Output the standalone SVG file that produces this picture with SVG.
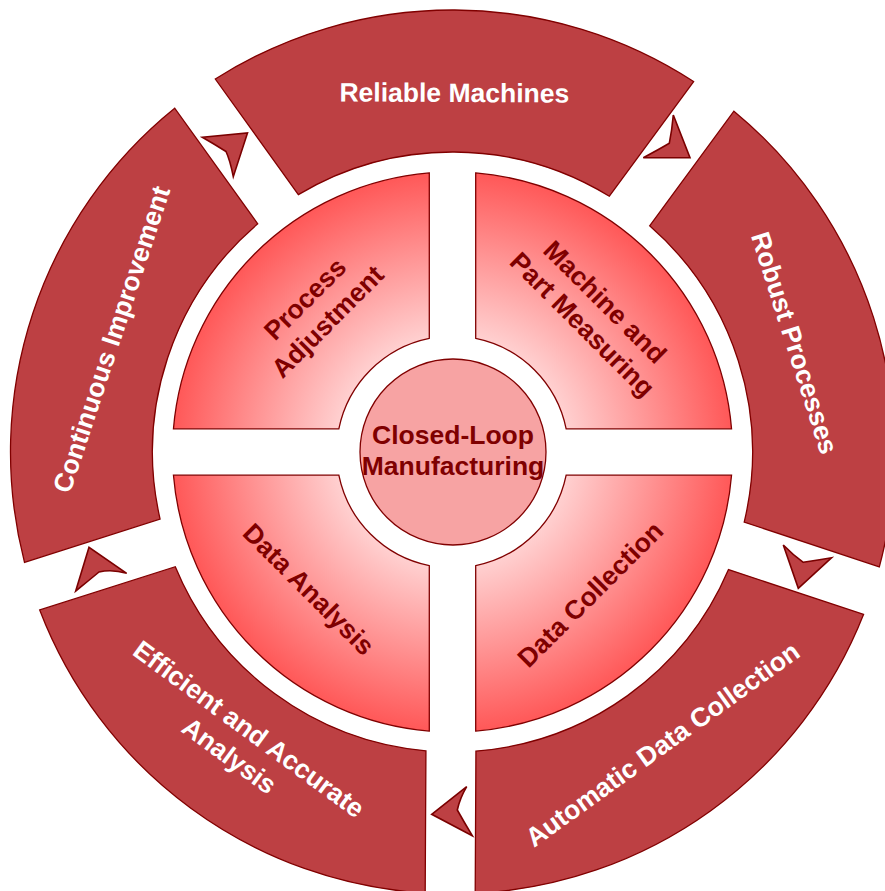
<svg xmlns="http://www.w3.org/2000/svg" width="885" height="891" viewBox="0 0 885 891">
  <defs>
    <style>
      .seg { fill: #BD4043; stroke: #800000; stroke-width: 1.3; }
      .quad { fill: url(#qgrad); stroke: #800000; stroke-width: 1.3; }
      .hub { fill: #F7A3A3; stroke: #800000; stroke-width: 1.3; }
      .arrow { fill: #BD4043; stroke: #7A0000; stroke-width: 1.6; stroke-linejoin: miter; }
      .otxt { font-family: "Liberation Sans", Arial, sans-serif; font-weight: bold; font-size: 26.5px; fill: #FFFFFF; text-anchor: middle; }
      .itxt { font-family: "Liberation Sans", Arial, sans-serif; font-weight: bold; font-size: 26.5px; fill: #7F0000; text-anchor: middle; }
    </style>
    <radialGradient id="qgrad" gradientUnits="userSpaceOnUse" cx="452.5" cy="452" r="280">
      <stop offset="0" stop-color="#FFE4E4"/>
      <stop offset="0.42" stop-color="#FFCFCF"/>
      <stop offset="0.7" stop-color="#FF9696"/>
      <stop offset="1" stop-color="#FF5858"/>
    </radialGradient>
  </defs>
  <rect width="885" height="891" fill="#FFFFFF"/>

  <!-- outer ring -->
  <g id="reliable-machines">
    <path class="seg" transform="rotate(0.3 452.5 452)" d="M 213.35 80.29 A 442 442 0 0 1 691.65 80.29 L 608 195.44 A 300 300 0 0 0 297 195.44 Z"/>
    <text class="otxt" transform="rotate(0.3 452.5 452)" x="452.5" y="102">Reliable Machines</text>
  </g>
  <g id="robust-processes">
    <path class="seg" transform="rotate(72.3 452.5 452)" d="M 213.35 80.29 A 442 442 0 0 1 691.65 80.29 L 608 195.44 A 300 300 0 0 0 297 195.44 Z"/>
    <text class="otxt" transform="rotate(72.3 452.5 452)" x="452.5" y="102">Robust Processes</text>
  </g>
  <g id="automatic-data-collection">
    <path class="seg" transform="rotate(144.3 452.5 452)" d="M 213.35 80.29 A 442 442 0 0 1 691.65 80.29 L 608 195.44 A 300 300 0 0 0 297 195.44 Z"/>
    <text class="otxt" transform="rotate(-35.7 452.5 452)" x="452.5" y="821">Automatic Data Collection</text>
  </g>
  <g id="efficient-accurate-analysis">
    <path class="seg" transform="rotate(216.3 452.5 452)" d="M 213.35 80.29 A 442 442 0 0 1 691.65 80.29 L 608 195.44 A 300 300 0 0 0 297 195.44 Z"/>
    <text class="otxt" transform="rotate(36.3 452.5 452)" x="452.5" y="805">Efficient and Accurate</text>
    <text class="otxt" transform="rotate(36.3 452.5 452)" x="452.5" y="838">Analysis</text>
  </g>
  <g id="continuous-improvement">
    <path class="seg" transform="rotate(288.3 452.5 452)" d="M 213.35 80.29 A 442 442 0 0 1 691.65 80.29 L 608 195.44 A 300 300 0 0 0 297 195.44 Z"/>
    <text class="otxt" transform="rotate(-71.7 452.5 452)" x="452.5" y="102">Continuous Improvement</text>
  </g>

  <!-- connectors (cycle arrows) -->
  <g id="connectors">
    <path class="arrow" d="M 202.3 137.3 L 247.5 133 L 233.3 176.7 Q 230 160 226 151.5 Q 214 144 202.3 137.3 Z"/>
    <path class="arrow" d="M 673.3 115 L 690 157.7 L 643.3 157.7 Q 658 150 669.3 143.3 Q 672 130 673.3 115 Z"/>
    <path class="arrow" d="M 831.7 557.7 L 798.3 588.3 L 783.3 545 Q 793 555 803.3 562.3 Q 818 560 831.7 557.7 Z"/>
    <path class="arrow" d="M 472.3 835.7 L 431.7 814.3 L 466.7 786.7 Q 460 798 457.3 810 Q 464 822 472.3 835.7 Z"/>
    <path class="arrow" d="M 75.7 591 L 89 547.3 L 126.7 573.3 Q 112 569 99 572 Q 87 582 75.7 591 Z"/>
  </g>

  <!-- inner quadrants -->
  <g id="process-adjustment">
    <path class="quad" d="M 173.46 428.8 A 280 280 0 0 1 429.3 172.96 L 429.3 338.34 A 116 116 0 0 0 338.84 428.8 Z"/>
    <text class="itxt" transform="translate(316 310) rotate(-45)" x="0" y="-6.5">Process</text>
    <text class="itxt" transform="translate(316 310) rotate(-45)" x="0" y="25.5">Adjustment</text>
  </g>
  <g id="machine-part-measuring">
    <path class="quad" transform="rotate(90 452.5 452)" d="M 173.46 428.8 A 280 280 0 0 1 429.3 172.96 L 429.3 338.34 A 116 116 0 0 0 338.84 428.8 Z"/>
    <text class="itxt" transform="translate(594 313) rotate(45)" x="0" y="-6.5">Machine and</text>
    <text class="itxt" transform="translate(594 313) rotate(45)" x="0" y="25.5">Part Measuring</text>
  </g>
  <g id="data-collection">
    <path class="quad" transform="rotate(180 452.5 452)" d="M 173.46 428.8 A 280 280 0 0 1 429.3 172.96 L 429.3 338.34 A 116 116 0 0 0 338.84 428.8 Z"/>
    <text class="itxt" transform="translate(590 594) rotate(-45)" x="0" y="9.5">Data Collection</text>
  </g>
  <g id="data-analysis">
    <path class="quad" transform="rotate(270 452.5 452)" d="M 173.46 428.8 A 280 280 0 0 1 429.3 172.96 L 429.3 338.34 A 116 116 0 0 0 338.84 428.8 Z"/>
    <text class="itxt" transform="translate(309 589) rotate(45)" x="0" y="9.5">Data Analysis</text>
  </g>

  <!-- hub -->
  <g id="closed-loop-manufacturing">
    <circle class="hub" cx="453" cy="452" r="93"/>
    <text class="itxt" x="453" y="444">Closed-Loop</text>
    <text class="itxt" x="453" y="475">Manufacturing</text>
  </g>
</svg>
